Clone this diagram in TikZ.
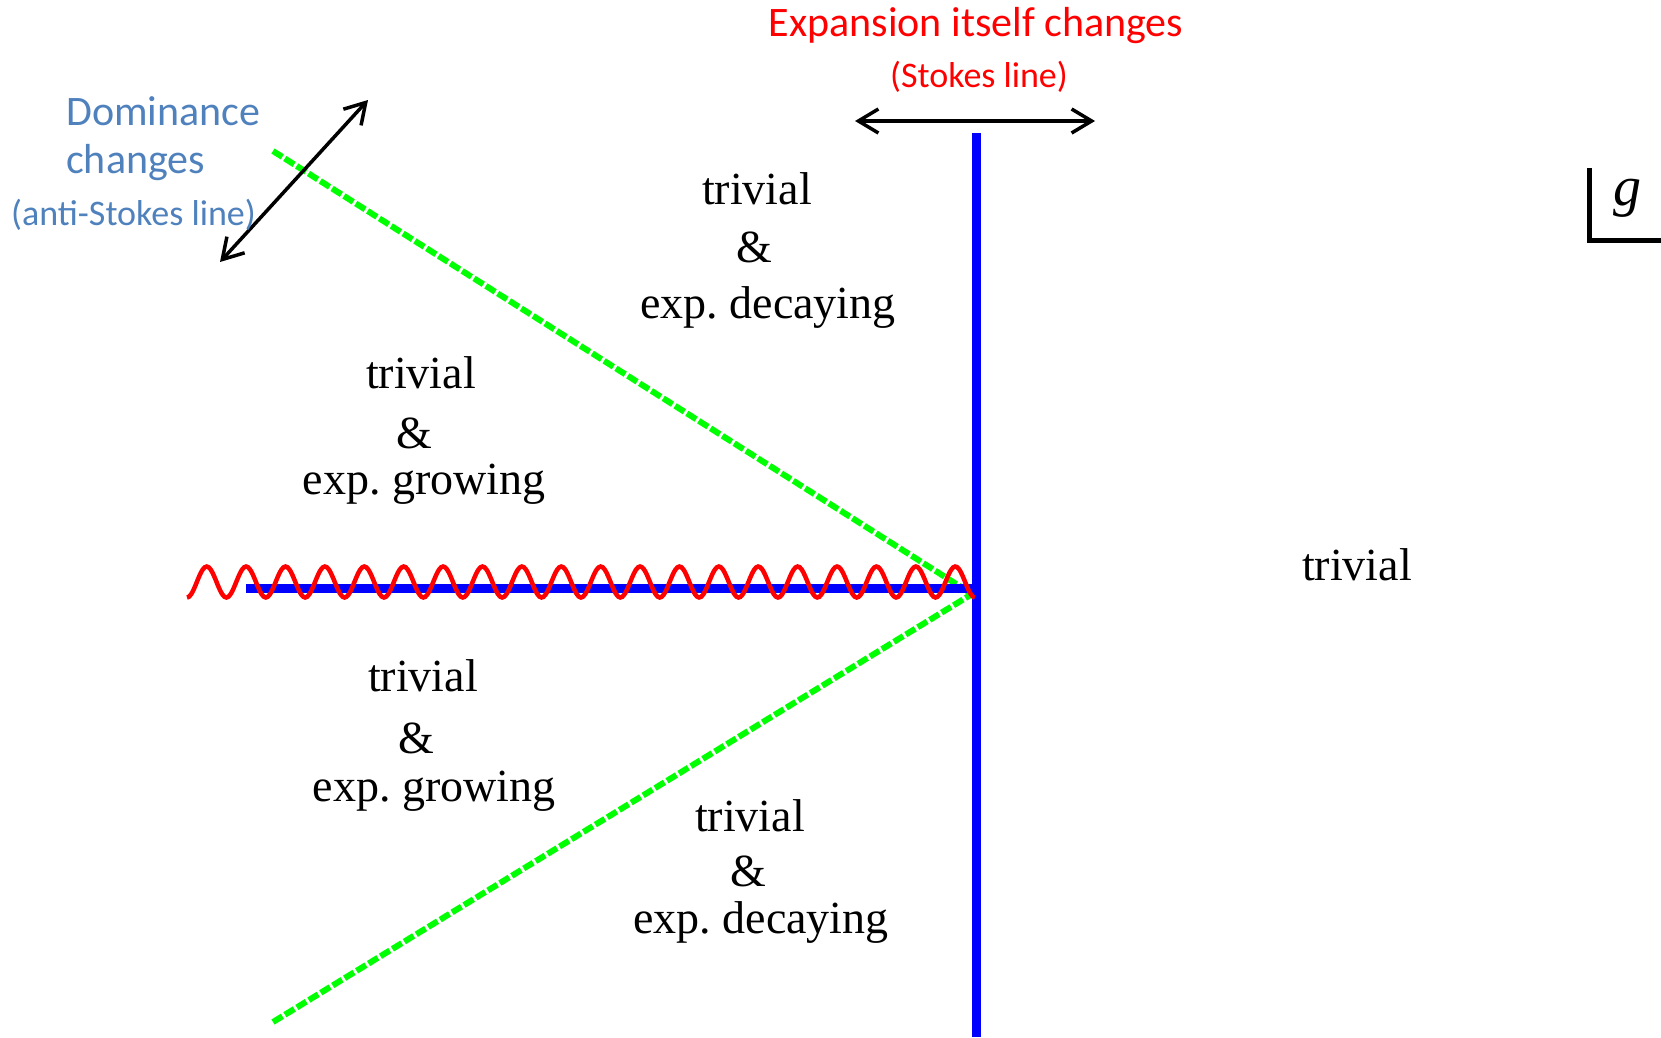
\documentclass[tikz,border=0pt]{standalone}
\usepackage{fontspec}
\setmainfont{Liberation Serif}
\newfontfamily\calibri{Carlito}
\usetikzlibrary{arrows.meta}
\frenchspacing

\definecolor{dombl}{HTML}{4F81BD}
\definecolor{stokesred}{HTML}{FF0000}
\definecolor{antigreen}{HTML}{00FF00}

\tikzset{
 region/.style={inner sep=0pt, font=\fontsize{46}{55}\selectfont},
 bluebig/.style={inner sep=0pt, text=dombl, font=\calibri\fontsize{42}{50}\selectfont},
 bluesmall/.style={inner sep=0pt, text=dombl, font=\calibri\fontsize{36}{44}\selectfont},
 redbig/.style={inner sep=0pt, text=stokesred, font=\calibri\fontsize{42}{50}\selectfont},
 redsmall/.style={inner sep=0pt, text=stokesred, font=\calibri\fontsize{36}{44}\selectfont},
 stokesline/.style={blue, line width=9pt},
 antistokes/.style={antigreen, line width=6pt, dash pattern=on 11pt off 3pt},
 cutline/.style={stokesred, line width=4.5pt},
 dblarrow/.style={black, line width=3.5pt, {Straight Barb[length=20pt,width=24pt]}-{Straight Barb[length=20pt,width=24pt]}}
}

\begin{document}
\begin{tikzpicture}[x=1pt,y=-1pt]
\useasboundingbox (0,0) rectangle (1661,1037);

% key points of the g-plane
\coordinate (O) at (976,588);
\coordinate (Stop) at (976,133);
\coordinate (Sbot) at (976,1037);
\coordinate (Sleft) at (246,588);
\coordinate (V) at (972,594);
\coordinate (Aup) at (273,151);
\coordinate (Alow) at (273,1022);

% anti-Stokes lines (green)
\draw[antistokes] (Aup) -- (V);
\draw[antistokes] (Alow) -- (V);

% Stokes lines (blue)
\draw[stokesline] (Sleft) -- (O);
\draw[stokesline] (Stop) -- (Sbot);

% branch cut (red wave)
\draw[cutline, smooth, domain=0:20, samples=401]
 plot ({187+39.4*\x},{582+15.5*cos(360*\x)});

% double arrows
\coordinate (dA) at (220,262);
\coordinate (dB) at (368,100);
\draw[dblarrow] (dA) -- (dB);
\coordinate (sA) at (855,121);
\coordinate (sB) at (1095,121);
\draw[dblarrow] (sA) -- (sB);

% labels
\node[bluebig, anchor=west] (dom) at (66,111) {Dominance};
\node[bluebig, anchor=west] (chg) at (66,163) {changes};
\node[bluesmall, anchor=west] (anti) at (11,215) {(anti-Stokes line)};
\node[redbig] (expn) at (976,26) {Expansion itself changes};
\node[redsmall] (stk) at (979,77) {(Stokes line)};

% regions
\node[region] (uA) at (757,189) {trivial};
\node[region] (uB) at (754,247) {\&};
\node[region] (uC) at (768,307) {exp. decaying};
\node[region] (mA) at (421,373) {trivial};
\node[region] (mB) at (414,433) {\&};
\node[region] (mC) at (424,484) {exp. growing};
\node[region] (lA) at (423,676) {trivial};
\node[region] (lB) at (416,738) {\&};
\node[region] (lC) at (434,791) {exp. growing};
\node[region] (dA) at (750,816) {trivial};
\node[region] (dB) at (748,871) {\&};
\node[region] (dC) at (761,922) {exp. decaying};
\node[region] (rA) at (1357,565) {trivial};

% g-plane corner
\coordinate (gT) at (1589,168);
\coordinate (gC) at (1589,240.5);
\coordinate (gR) at (1661,240.5);
\draw[line width=5pt] (gT) -- (gC) -- (gR);
\node[region, font=\fontsize{56}{60}\selectfont\itshape] (g) at (1627,198) {g};
\end{tikzpicture}
\end{document}
